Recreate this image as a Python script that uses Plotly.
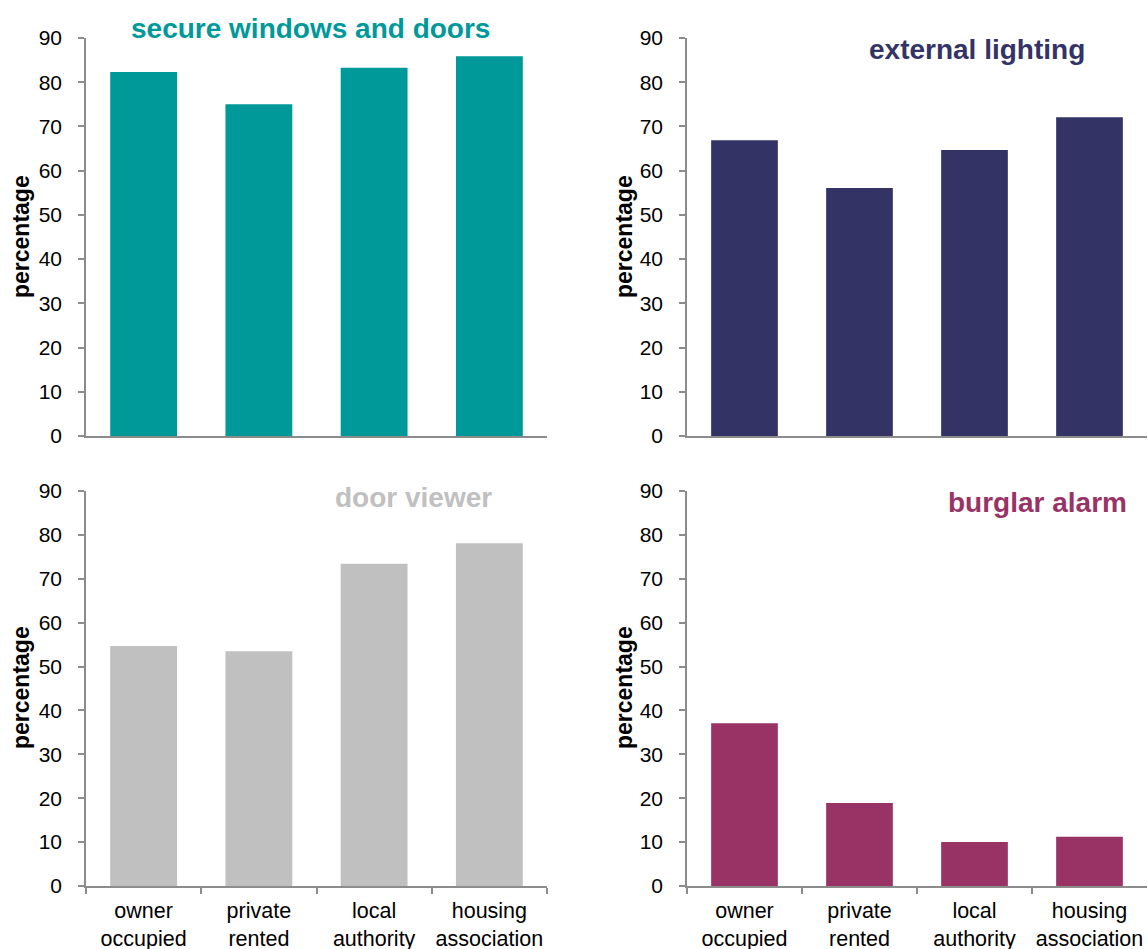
import plotly.graph_objects as go
from plotly.subplots import make_subplots

# Tenure groups shown on every panel
categories = ["owner<br>occupied", "private<br>rented", "local<br>authority", "housing<br>association"]

# Percentage of dwellings with each security feature, by tenure
secure_windows_doors = [82.3, 75.0, 83.3, 85.9]
external_lighting = [66.9, 56.1, 64.7, 72.1]
door_viewer = [54.7, 53.5, 73.4, 78.1]
burglar_alarm = [37.1, 18.9, 10.0, 11.2]

panel_titles = ["secure windows and doors", "external lighting", "door viewer", "burglar alarm"]
panel_colors = ["#009999", "#333366", "#C0C0C0", "#993366"]
panel_values = [secure_windows_doors, external_lighting, door_viewer, burglar_alarm]
y_ticks = [0, 10, 20, 30, 40, 50, 60, 70, 80, 90]

W, H = 1148, 949
FONT = "Liberation Sans, Arial, sans-serif"


def px_x(p):
    return p / W


def px_y(p):
    return 1 - p / H


fig = make_subplots(rows=2, cols=2)

for i, (vals, col) in enumerate(zip(panel_values, panel_colors)):
    r, c = i // 2 + 1, i % 2 + 1
    fig.add_trace(
        go.Bar(x=categories, y=vals, marker=dict(color=col, line=dict(width=0)),
               showlegend=False, hoverinfo="x+y"),
        row=r, col=c,
    )

# Plot-area geometry (pixels)
x_domains = [(86, 547), (687, 1147)]
y_domains = [(436, 38), (886, 491)]

for i in range(4):
    r, c = i // 2, i % 2
    xa = "xaxis" if i == 0 else f"xaxis{i + 1}"
    ya = "yaxis" if i == 0 else f"yaxis{i + 1}"
    x0, x1 = x_domains[c]
    yb, yt = y_domains[r]
    bottom = r == 1
    fig.layout[xa].update(
        domain=[px_x(x0), px_x(x1)],
        showline=True, linecolor="#8C8C8C", linewidth=1.5,
        showgrid=False, zeroline=False,
        showticklabels=bottom, tickangle=0, automargin=False,
        ticks="outside" if bottom else "",
        tickson="boundaries", ticklen=6, tickcolor="#8C8C8C", tickwidth=1.5,
        tickfont=dict(family=FONT, size=21.5, color="#000000"),
        ticklabelstandoff=4,
    )
    fig.layout[ya].update(
        domain=[px_y(yb), px_y(yt)],
        range=[0, 90], tickvals=y_ticks, automargin=False,
        showline=True, linecolor="#8C8C8C", linewidth=1.5,
        showgrid=False, zeroline=False,
        ticks="outside", ticklen=6, tickcolor="#8C8C8C", tickwidth=1.5,
        tickfont=dict(family=FONT, size=21, color="#000000"),
        ticklabelstandoff=12,
    )

annotations = []
# Panel titles inside each plot area
title_pos = [(310, 29), (977, 49), (413, 497), (1037, 502)]
for t, col, (tx, ty) in zip(panel_titles, panel_colors, title_pos):
    annotations.append(dict(
        text=f"<b>{t}</b>", x=px_x(tx), y=px_y(ty), xref="paper", yref="paper",
        xanchor="center", yanchor="middle", showarrow=False,
        font=dict(family=FONT, size=28, color=col),
    ))

# Rotated y-axis titles
for (yx, yy) in [(21, 237), (624, 237), (21, 688), (624, 688)]:
    annotations.append(dict(
        text="<b>percentage</b>", x=px_x(yx), y=px_y(yy), xref="paper", yref="paper",
        xanchor="center", yanchor="middle", showarrow=False, textangle=-90,
        font=dict(family=FONT, size=23, color="#000000"),
    ))

fig.update_layout(
    width=W, height=H,
    margin=dict(l=0, r=0, t=0, b=0, autoexpand=False),
    paper_bgcolor="white", plot_bgcolor="white",
    bargap=0.42,
    annotations=annotations,
    font=dict(family=FONT),
)

fig.write_html("out.html")
